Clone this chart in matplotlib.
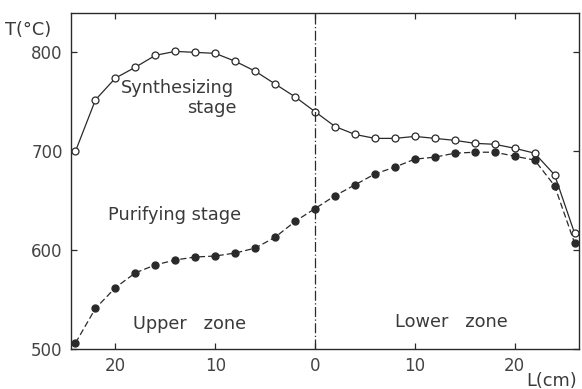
import matplotlib
matplotlib.use('Agg')
import matplotlib.pyplot as plt
from matplotlib.ticker import FuncFormatter

# distance from furnace centre (cm); negative = upper zone
pos = [-24, -22, -20, -18, -16, -14, -12, -10, -8, -6, -4, -2, 0,
       2, 4, 6, 8, 10, 12, 14, 16, 18, 20, 22, 24, 26]
synth_T = [700, 752, 774, 785, 797, 801, 800, 799, 791, 781, 768, 755, 740,
           725, 717, 713, 713, 715, 713, 711, 708, 707, 703, 698, 676, 617]
purif_T = [506, 541, 562, 577, 585, 590, 593, 594, 597, 602, 613, 629, 642,
           655, 666, 677, 684, 692, 694, 698, 699, 699, 695, 691, 665, 607]
x_ticks = [-20, -10, 0, 10, 20]
y_ticks = [500, 600, 700, 800]

ink = '#2a2a2a'
plt.rcParams['font.family'] = 'DejaVu Sans'

fig = plt.figure(figsize=(5.82, 3.89), dpi=100)
ax = fig.add_axes([0.122, 0.103, 0.873, 0.864])

ax.plot(pos, synth_T, '-', color=ink, lw=0.9, marker='o', ms=5,
        mfc='white', mec=ink, mew=0.9)
ax.plot(pos, purif_T, color=ink, lw=0.9, ls=(0, (5, 2.5)), marker='o',
        ms=5, mfc=ink, mec=ink)
ax.axvline(0, color=ink, lw=0.9, ls=(0, (8, 2, 1, 2)))

ax.set_xlim(-24.45, 26.45)
ax.set_ylim(500, 840)
ax.set_xticks(x_ticks)
ax.set_yticks(y_ticks)
ax.xaxis.set_major_formatter(FuncFormatter(lambda v, p: f'{abs(v):.0f}'))
ax.tick_params(direction='in', top=True, right=True, length=4,
               width=0.9, colors=ink, labelsize=12, labelcolor='#444444')
ax.tick_params(axis='x', pad=6)
ax.tick_params(axis='y', pad=6)
for s in ax.spines.values():
    s.set_color(ink)
    s.set_linewidth(1.0)

txt = dict(color='#3a3a3a', fontsize=12.8)
ax.text(-19.5, 764, 'Synthesizing', ha='left', va='center', **txt)
ax.text(-7.9, 744, 'stage', ha='right', va='center', **txt)
ax.text(-20.7, 635, 'Purifying stage', ha='left', va='center', **txt)
ax.text(-18.2, 525, 'Upper   zone', ha='left', va='center', **txt)
ax.text(8.0, 527, 'Lower   zone', ha='left', va='center', **txt)
fig.text(0.009, 0.922, 'T(°C)', ha='left', va='center', **txt)
fig.text(0.905, 0.02, 'L(cm)', ha='left', va='center', **txt)

fig.savefig('out.png', dpi=100)
